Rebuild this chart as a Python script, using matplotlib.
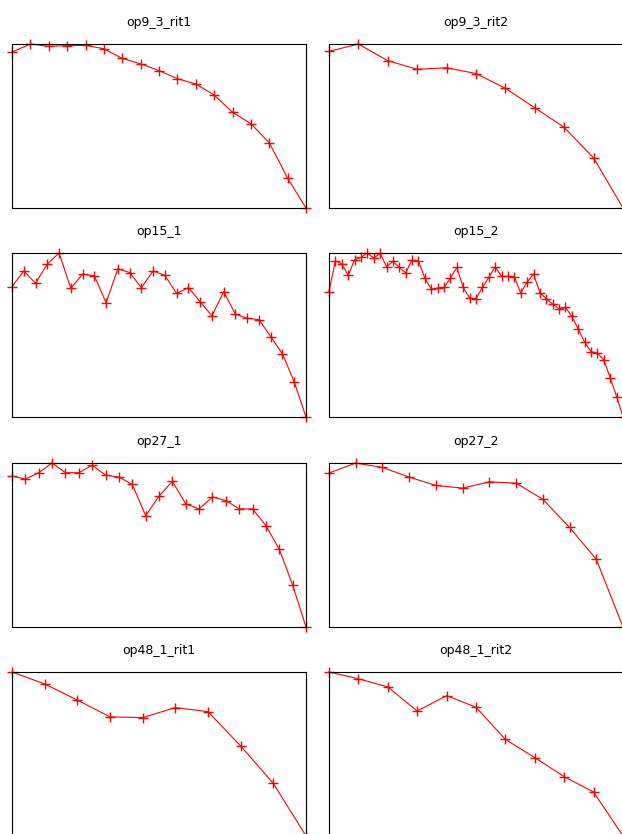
import matplotlib
matplotlib.use("Agg")
import matplotlib.pyplot as plt

# normalised curves (no tick labels there)
op9_3_rit1 = [0.951, 1.0, 0.986, 0.990, 0.992, 0.971, 0.912, 0.879, 0.838,
              0.789, 0.756, 0.689, 0.584, 0.514, 0.398, 0.182, 0.0]
op9_3_rit2 = [0.955, 1.0, 0.898, 0.846, 0.855, 0.820, 0.730, 0.611, 0.492,
              0.305, 0.0]
op15_1 = [0.795, 0.891, 0.816, 0.932, 1.0, 0.785, 0.871, 0.861, 0.697, 0.904,
          0.881, 0.789, 0.891, 0.863, 0.754, 0.789, 0.703, 0.617, 0.764,
          0.627, 0.602, 0.594, 0.490, 0.385, 0.213, 0.0]
op15_2 = [0.765, 0.953, 0.933, 0.863, 0.959, 0.973, 1.0, 0.969, 0.998, 0.916,
          0.949, 0.912, 0.878, 0.959, 0.949, 0.847, 0.780, 0.786, 0.790,
          0.847, 0.912, 0.790, 0.725, 0.721, 0.790, 0.851, 0.916, 0.857,
          0.857, 0.853, 0.756, 0.823, 0.872, 0.759, 0.721, 0.688, 0.660,
          0.668, 0.613, 0.536, 0.456, 0.399, 0.389, 0.348, 0.240, 0.124, 0.0]
op27_1 = [0.920, 0.902, 0.941, 1.0, 0.941, 0.941, 0.986, 0.926, 0.914, 0.869,
          0.679, 0.798, 0.888, 0.751, 0.720, 0.793, 0.771, 0.720, 0.720,
          0.618, 0.474, 0.256, 0.0]
op27_2 = [0.939, 1.0, 0.973, 0.914, 0.863, 0.847, 0.885, 0.877, 0.779, 0.607,
          0.413, 0.0]
op48_1_rit1 = [1.0, 0.927, 0.829, 0.726, 0.722, 0.783, 0.758, 0.549, 0.321, 0.0]
op48_1_rit2 = [1.0, 0.959, 0.909, 0.762, 0.856, 0.785, 0.589, 0.478, 0.362,
               0.268, 0.0]

titles = ["op9_3_rit1", "op9_3_rit2", "op15_1", "op15_2",
          "op27_1", "op27_2", "op48_1_rit1", "op48_1_rit2"]
series = [op9_3_rit1, op9_3_rit2, op15_1, op15_2,
          op27_1, op27_2, op48_1_rit1, op48_1_rit2]

W, H = 622, 834
fig = plt.figure(figsize=(W / 100, H / 100), dpi=100)

# pixel boxes of the panels (the right column and the last row run off the edge)
lefts = [12, 329]
tops = [44, 253, 463, 672]
aw, ah = 294, 164

for i, (name, vals) in enumerate(zip(titles, series)):
    r, c = divmod(i, 2)
    ax = fig.add_axes([lefts[c] / W, 1 - (tops[r] + ah) / H, aw / W, ah / H])
    ax.plot(vals, color="red", marker="+", markersize=7.5, linewidth=0.8,
            clip_on=False)
    ax.set_xlim(0, len(vals) - 1)
    ax.set_ylim(min(vals), max(vals))
    ax.set_xticks([])
    ax.set_yticks([])
    ax.set_title(name, fontsize=9, pad=13)

fig.savefig("out.png", dpi=100)
